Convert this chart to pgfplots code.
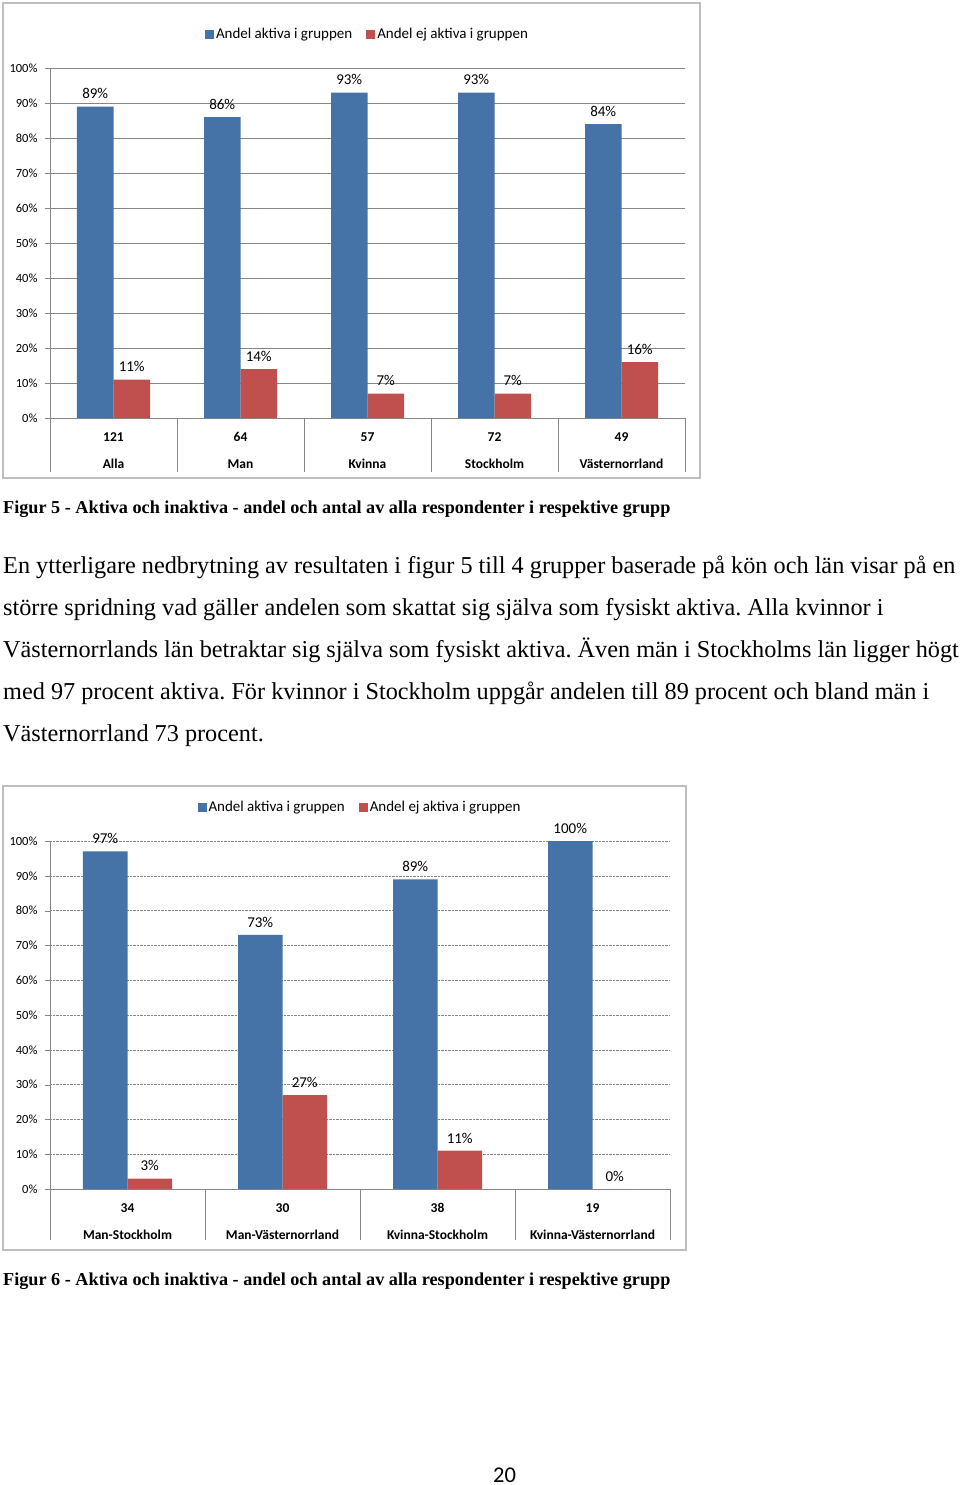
\documentclass[border=0pt]{standalone}
\usepackage{fontspec}
\setmainfont{Liberation Serif}
\newfontfamily\calibri{Carlito}
\usepackage{pgfplots}
\pgfplotsset{compat=1.18}
\definecolor{barblue}{RGB}{69,114,167}
\definecolor{barred}{RGB}{192,80,77}
\definecolor{gridgray}{RGB}{134,134,134}
\definecolor{framegray}{RGB}{190,190,190}
\frenchspacing

\pgfplotsset{
  excel/.style={
    scale only axis,
    ybar=0pt,
    enlargelimits=false,
    ymin=0, ymax=100, ytick={0,10,...,100},
    /pgf/number format/assume math mode=true,
    yticklabel={\pgfmathprintnumber{\tick}\%},
    ymajorgrids,
    axis lines*=left,
    axis line style={gridgray,-},
    tick align=outside,
    major tick length=5pt,
    y tick style={gridgray},
    x tick style={draw=none},
    yticklabel style={font=\calibri\fontsize{12.5}{12.5}\selectfont, xshift=-4pt},
    xticklabel style={align=center, font=\calibri\bfseries\fontsize{13.5}{13.5}\selectfont, text=black, yshift=-6pt},
    nodes near coords={\pgfmathprintnumber{\pgfplotspointmeta}\%},
    every node near coord/.append style={font=\calibri\fontsize{15}{15}\selectfont, text=black, yshift=4pt},
    legend style={draw=none, fill=none, legend columns=2,
      font=\calibri\fontsize{15}{15}\selectfont,
      at={(0.5,1)}, anchor=center, yshift=34pt,
      /tikz/every even column/.append style={column sep=12pt}},
    legend image code/.code={\fill[##1] (-3pt,-4.5pt) rectangle (6pt,4.5pt);},
    xmin=0,
  }
}

\begin{document}
\begin{tikzpicture}[x=1pt,y=1pt]
\useasboundingbox (0,0) rectangle (960,-1485);
\fill[white] (0,0) rectangle (960,-1485);

% ---------- Chart 1 ----------
\draw[framegray, line width=1.2pt] (3,-3) rectangle (700,-478);
\begin{axis}[excel,
  at={(50pt,-418pt)}, anchor=south west,
  width=635pt, height=350pt,
  xmax=5, bar width=36.5pt,
  major grid style={gridgray, line width=0.6pt},
  xtick={0.5,1.5,2.5,3.5,4.5},
  xticklabels={{121\\[13.5pt]Alla},{64\\[13.5pt]Man},{57\\[13.5pt]Kvinna},{72\\[13.5pt]Stockholm},{49\\[13.5pt]Västernorrland}},
  extra x ticks={0,1,2,3,4,5}, extra x tick labels={},
  extra x tick style={major tick length=54pt, x tick style={draw=gridgray}, grid=none},
]
\addplot[fill=barblue, draw=none] coordinates {(0.5,89) (1.5,86) (2.5,93) (3.5,93) (4.5,84)};
\addplot[fill=barred, draw=none] coordinates {(0.5,11) (1.5,14) (2.5,7) (3.5,7) (4.5,16)};
\legend{Andel aktiva i gruppen, Andel ej aktiva i gruppen}
\end{axis}

\node[anchor=base west, inner sep=0, font=\bfseries\fontsize{18.2}{18.2}\selectfont] at (3,-513) {Figur 5 - Aktiva och inaktiva - andel och antal av alla respondenter i respektive grupp};

% ---------- Body text ----------
\begin{scope}[every node/.style={anchor=base west, inner sep=0, font=\fontsize{24.25}{24.25}\selectfont}]
\node at (3,-573) {En ytterligare nedbrytning av resultaten i figur 5 till 4 grupper baserade på kön och län visar på en};
\node at (3,-615) {större spridning vad gäller andelen som skattat sig själva som fysiskt aktiva. Alla kvinnor i};
\node at (3,-657) {Västernorrlands län betraktar sig själva som fysiskt aktiva. Även män i Stockholms län ligger högt};
\node at (3,-699) {med 97 procent aktiva. För kvinnor i Stockholm uppgår andelen till 89 procent och bland män i};
\node at (3,-741) {Västernorrland 73 procent.};
\end{scope}

% ---------- Chart 2 ----------
\draw[framegray, line width=1.2pt] (3,-786) rectangle (686,-1250);
\begin{axis}[excel,
  at={(50pt,-1189pt)}, anchor=south west,
  width=620pt, height=348pt,
  xmax=4, bar width=44.5pt,
  major grid style={gridgray, densely dotted, line width=0.6pt},
  xtick={0.5,1.5,2.5,3.5},
  xticklabels={{34\\[13.5pt]Man-Stockholm},{30\\[13.5pt]Man-Västernorrland},{38\\[13.5pt]Kvinna-Stockholm},{19\\[13.5pt]Kvinna-Västernorrland}},
  extra x ticks={0,1,2,3,4}, extra x tick labels={},
  extra x tick style={major tick length=51pt, x tick style={draw=gridgray}, grid=none},
]
\addplot[fill=barblue, draw=none] coordinates {(0.5,97) (1.5,73) (2.5,89) (3.5,100)};
\addplot[fill=barred, draw=none] coordinates {(0.5,3) (1.5,27) (2.5,11) (3.5,0)};
\legend{Andel aktiva i gruppen, Andel ej aktiva i gruppen}
\end{axis}

\node[anchor=base west, inner sep=0, font=\bfseries\fontsize{18.2}{18.2}\selectfont] at (3,-1285) {Figur 6 - Aktiva och inaktiva - andel och antal av alla respondenter i respektive grupp};

\node[anchor=base, inner sep=0, font=\calibri\fontsize{22.5}{22.5}\selectfont] at (504.5,-1482) {20};
\end{tikzpicture}
\end{document}
